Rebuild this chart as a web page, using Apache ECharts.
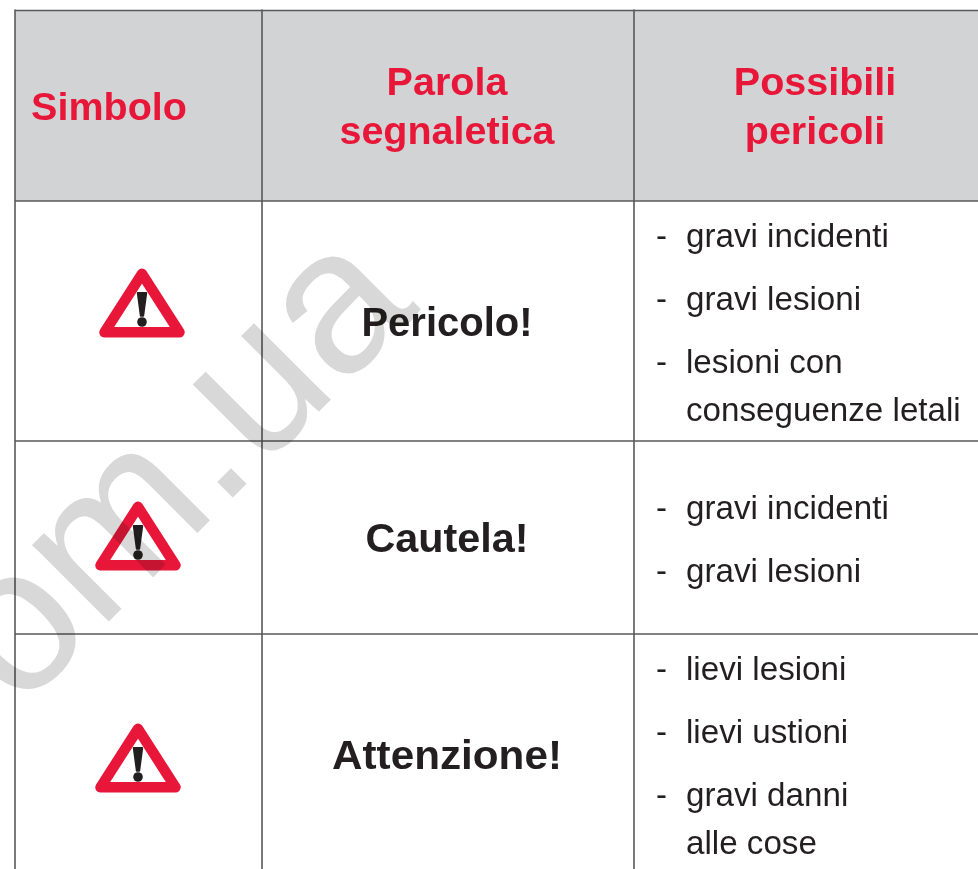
<!DOCTYPE html>
<html>
<head>
<meta charset="utf-8">
<style>html,body{margin:0;padding:0;background:#fff}#c{width:978px;height:869px}</style>
<script src="https://cdn.jsdelivr.net/npm/echarts@6/dist/echarts.min.js"></script>
</head>
<body>
<div id="c"></div>
<script>
const headers = [['Simbolo'], ['Parola', 'segnaletica'], ['Possibili', 'pericoli']];
const signalWords = ['Pericolo!', 'Cautela!', 'Attenzione!'];
const hazards = [
  [['gravi incidenti'], ['gravi lesioni'], ['lesioni con', 'conseguenze letali']],
  [['gravi incidenti'], ['gravi lesioni']],
  [['lievi lesioni'], ['lievi ustioni'], ['gravi danni', 'alle cose']]
];
const watermark = 'om.ua';

// layout of the table, in axis units
const W = 978, H = 869;
const colEdges = [15, 262, 634, W];
const rowEdges = [10.5, 201, 441, 634, H];
const headerBaselines = [[119], [94, 143], [94, 143]];
const headerCentres = [109, 447, 815];
const wordBaselines = [334.5, 550.5, 767.5];
const wordStretch = [1.0, 1.033, 1.056];
const firstHazardBaseline = [246, 518, 679];
const signCentres = [[142, 268], [138, 501], [138, 723]];
const RED = '#e8173a', INK = '#231f20', LINE = '#58595b', HEAD = '#d1d3d4', SANS = '"Liberation Sans", Arial, sans-serif';

function label(api, text, x, base, size, weight, color, align, stretch) {
  const p = api.coord([x, base]);
  return {
    type: 'text', x: p[0], y: p[1] - size * 0.25, scaleX: stretch || 1, scaleY: 1,
    style: { text, x: 0, y: 0, font: weight + ' ' + size + 'px ' + SANS, fill: color, align, verticalAlign: 'middle' }
  };
}

function renderTable(params, api) {
  const kids = [];
  const c = (x, y) => api.coord([x, y]);
  const a = c(colEdges[0], rowEdges[0]), b = c(W, rowEdges[1]);
  kids.push({ type: 'rect', shape: { x: a[0], y: a[1], width: b[0] - a[0], height: b[1] - a[1] }, style: { fill: HEAD } });
  colEdges.slice(0, 3).forEach(x => {
    const p = c(x, rowEdges[0] - 1), q = c(x, H);
    kids.push({ type: 'line', shape: { x1: p[0], y1: p[1], x2: q[0], y2: q[1] }, style: { stroke: LINE, lineWidth: 1.6 } });
  });
  rowEdges.slice(0, 4).forEach(y => {
    const p = c(colEdges[0], y), q = c(W, y);
    kids.push({ type: 'line', shape: { x1: p[0], y1: p[1], x2: q[0], y2: q[1] }, style: { stroke: LINE, lineWidth: 1.6 } });
  });
  return { type: 'group', children: kids };
}

function renderHeader(params, api) {
  const i = api.value(0), kids = [];
  headers[i].forEach((t, k) => kids.push(label(api, t, headerCentres[i], headerBaselines[i][k], 39.5, 'bold', RED, 'center')));
  return { type: 'group', children: kids };
}

function renderRow(params, api) {
  const i = api.value(0), kids = [];
  const s = signCentres[i], cx = s[0], top = s[1];
  const pt = (dx, dy) => api.coord([cx + dx, top + dy]);
  kids.push({ type: 'polygon', shape: { points: [pt(0, 5.8), pt(-37.5, 64.3), pt(37.5, 64.3)] },
    style: { fill: '#fff', stroke: RED, lineWidth: 10.5, lineJoin: 'round' } });
  kids.push({ type: 'polygon', shape: { points: [pt(-4.2, 25), pt(4.2, 25), pt(1.2, 47.7), pt(-1.2, 47.7)] },
    style: { fill: INK, stroke: INK, lineWidth: 2, lineJoin: 'round' } });
  const d = pt(0, 54);
  kids.push({ type: 'circle', shape: { cx: d[0], cy: d[1], r: 4.8 }, style: { fill: INK } });
  kids.push(label(api, signalWords[i], 447, wordBaselines[i], 40, 'bold', INK, 'center', wordStretch[i]));
  let base = firstHazardBaseline[i];
  hazards[i].forEach(entry => {
    kids.push(label(api, '-', 656, base, 33, 'normal', INK, 'left'));
    entry.forEach((line, k) => {
      kids.push(label(api, line, 686, base, 33, 'normal', INK, 'left', 1.005));
      base += k < entry.length - 1 ? 48 : 63;
    });
  });
  return { type: 'group', children: kids };
}

function renderMark(params, api) {
  const p = api.coord([14.5, 708.5]);
  return {
    type: 'text', x: p[0], y: p[1],
    rotation: Math.PI / 4,
    style: { text: watermark, x: 0, y: -205 * 0.25, font: '205px ' + SANS, fill: '#d8d8d8', align: 'left', verticalAlign: 'middle' }
  };
}

const chart = echarts.init(document.getElementById('c'), null, { renderer: 'canvas' });
chart.setOption({
  animation: false,
  backgroundColor: '#fff',
  grid: { left: 0, right: 0, top: 0, bottom: 0 },
  xAxis: { type: 'value', min: 0, max: W, show: false },
  yAxis: { type: 'value', min: 0, max: H, inverse: true, show: false },
  series: [
    { type: 'custom', clip: false, z: 1, silent: true, coordinateSystem: 'cartesian2d', data: [[0]], renderItem: renderTable },
    { type: 'custom', clip: false, z: 2, silent: true, coordinateSystem: 'cartesian2d', data: headers.map((h, i) => [i]), encode: { x: -1, y: -1 }, renderItem: renderHeader },
    { type: 'custom', clip: false, z: 3, silent: true, coordinateSystem: 'cartesian2d', data: signalWords.map((h, i) => [i]), encode: { x: -1, y: -1 }, renderItem: renderRow },
    { type: 'custom', clip: false, z: 4, silent: true, coordinateSystem: 'cartesian2d', data: [[0]], renderItem: renderMark }
  ]
});
// the pale mark overprints everything beneath it, as in the printed page
const zr = chart.getZr();
zr.storage.getDisplayList(true).forEach(el => {
  if (el.style && el.style.text === watermark) { el.style.blend = 'multiply'; el.dirty(); }
});
zr.refreshImmediately();
</script>
</body>
</html>
